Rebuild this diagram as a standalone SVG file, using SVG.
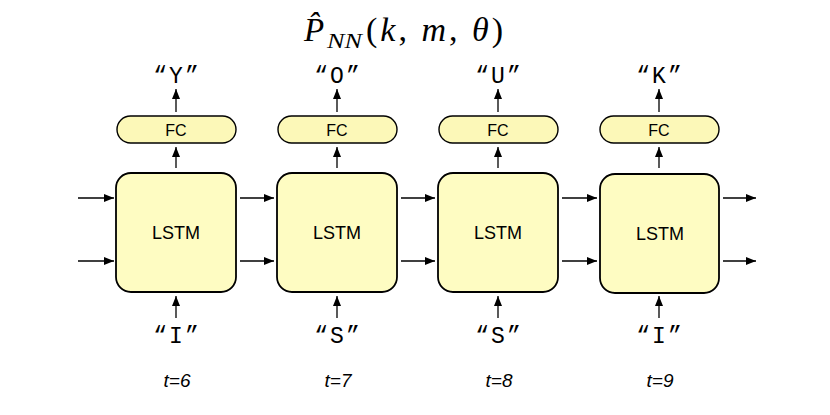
<svg xmlns="http://www.w3.org/2000/svg" width="830" height="415" viewBox="0 0 830 415">
<defs>
<marker id="ah" viewBox="0 0 10 10" refX="10" refY="5" markerWidth="10" markerHeight="10" markerUnits="userSpaceOnUse" orient="auto">
<path d="M0,1 L10,5 L0,9 z" fill="#000"/>
</marker>
<style>
.box{fill:#FEFCC2;stroke:#000;stroke-width:1.8}
.fc{fill:#FCF8B8;stroke:#000;stroke-width:1.4}
.lbl{font-family:"Liberation Sans",Arial,sans-serif;fill:#000;text-anchor:middle}
.q{font-family:"Liberation Mono","Courier New",monospace;font-size:23px;fill:#000;text-anchor:middle;letter-spacing:2px}
.t{font-family:"Liberation Sans",Arial,sans-serif;font-style:italic;font-size:19px;fill:#000;text-anchor:middle}
.m{font-family:"Liberation Serif","DejaVu Serif",serif;fill:#000}
.ar{stroke:#000;stroke-width:1.3;fill:none;marker-end:url(#ah)}
</style>
</defs>
<rect width="830" height="415" fill="#fff"/>
<g id="title">
<text class="m" x="304" y="41" font-size="33"><tspan font-style="italic">P̂</tspan><tspan x="327" y="48" font-size="22" font-style="italic" textLength="35" lengthAdjust="spacingAndGlyphs">NN</tspan><tspan x="366" y="41" font-size="34" textLength="137" lengthAdjust="spacing">(<tspan font-style="italic">k</tspan>, <tspan font-style="italic">m</tspan>, <tspan font-style="italic">θ</tspan>)</tspan></text>
</g>

<g id="node-lstm1"><rect class="box" x="116" y="173" width="120" height="119" rx="15"/><text class="lbl" x="176" y="239" font-size="18">LSTM</text></g>
<g id="node-lstm2"><rect class="box" x="277" y="173" width="120" height="119" rx="15"/><text class="lbl" x="337" y="239" font-size="18">LSTM</text></g>
<g id="node-lstm3"><rect class="box" x="438" y="173" width="120" height="119" rx="15"/><text class="lbl" x="498" y="239" font-size="18">LSTM</text></g>
<g id="node-lstm4"><rect class="box" x="600" y="174" width="119" height="119" rx="15"/><text class="lbl" x="660" y="240" font-size="18">LSTM</text></g>

<g id="node-fc1"><rect class="fc" x="117" y="116" width="119" height="27" rx="13.5"/><text class="lbl" x="176" y="135.5" font-size="16">FC</text></g>
<g id="node-fc2"><rect class="fc" x="278" y="116" width="119" height="27" rx="13.5"/><text class="lbl" x="337" y="135.5" font-size="16">FC</text></g>
<g id="node-fc3"><rect class="fc" x="439" y="116" width="119" height="27" rx="13.5"/><text class="lbl" x="498" y="135.5" font-size="16">FC</text></g>
<g id="node-fc4"><rect class="fc" x="600" y="116" width="119" height="27" rx="13.5"/><text class="lbl" x="659" y="135.5" font-size="16">FC</text></g>

<g id="labels">
<text class="q" x="177" y="83">“Y”</text>
<text class="q" x="338" y="83">“O”</text>
<text class="q" x="499" y="83">“U”</text>
<text class="q" x="660" y="83">“K”</text>
<text class="q" x="177" y="343">“I”</text>
<text class="q" x="338" y="343">“S”</text>
<text class="q" x="499" y="343">“S”</text>
<text class="q" x="660" y="343">“I”</text>
<text class="t" x="177" y="387">t=6</text>
<text class="t" x="338" y="387">t=7</text>
<text class="t" x="499" y="387">t=8</text>
<text class="t" x="660" y="387">t=9</text>
</g>

<g id="connectors">
<path class="ar" d="M176,168 V147"/>
<path class="ar" d="M337,168 V147"/>
<path class="ar" d="M498,168 V147"/>
<path class="ar" d="M659,168 V147"/>
<path class="ar" d="M176,112 V89"/>
<path class="ar" d="M337,112 V89"/>
<path class="ar" d="M498,112 V89"/>
<path class="ar" d="M659,112 V89"/>
<path class="ar" d="M176,318 V296"/>
<path class="ar" d="M337,318 V296"/>
<path class="ar" d="M498,318 V296"/>
<path class="ar" d="M659,318 V296"/>
<path class="ar" d="M78,198 H114"/>
<path class="ar" d="M78,261 H114"/>
<path class="ar" d="M240,198 H274"/>
<path class="ar" d="M240,261 H274"/>
<path class="ar" d="M401,198 H435"/>
<path class="ar" d="M401,261 H435"/>
<path class="ar" d="M562,198 H597"/>
<path class="ar" d="M562,261 H597"/>
<path class="ar" d="M723,198 H756"/>
<path class="ar" d="M723,261 H756"/>
</g>
</svg>
